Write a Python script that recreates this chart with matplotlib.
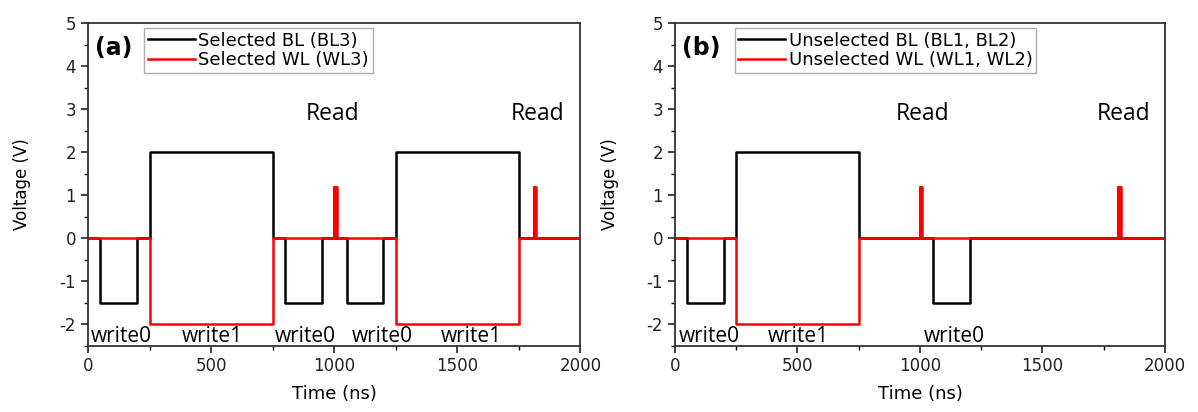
import numpy as np
import matplotlib.pyplot as plt

# tempos (ns) e tensoes (V) de cada sinal, em degraus
bl_a_t = [0, 50, 200, 250, 750, 800, 950, 1050, 1200, 1250, 1750, 2000]
bl_a_v = [0, -1.5, 0, 2, 0, -1.5, 0, -1.5, 0, 2, 0, 0]
wl_a_t = [0, 250, 750, 1000, 1010, 1250, 1750, 1810, 1820, 2000]
wl_a_v = [0, -2, 0, 1.2, 0, -2, 0, 1.2, 0, 0]

bl_b_t = [0, 50, 200, 250, 750, 1055, 1205, 2000]
bl_b_v = [0, -1.5, 0, 2, 0, -1.5, 0, 0]
wl_b_t = [0, 250, 750, 1000, 1010, 1810, 1820, 2000]
wl_b_v = [0, -2, 0, 1.2, 0, 1.2, 0, 0]

# rotulos de operacao
ops_a = ["write0", "write1", "write0", "write0", "write1"]
ops_a_x = [135, 504, 882, 1197, 1557]
ops_b = ["write0", "write1", "write0"]
ops_b_x = [138, 503, 1142]
read_a_x = [992, 1825]
read_b_x = [1010, 1833]

plt.rcParams['font.family'] = ['DejaVu Sans']

fig = plt.figure(figsize=(11.98, 4.12), dpi=100)
ax_a = fig.add_axes([0.0735, 0.161, 0.411, 0.783])
ax_b = fig.add_axes([0.5634, 0.161, 0.409, 0.783])

paineis = [
    (ax_a, bl_a_t, bl_a_v, wl_a_t, wl_a_v, "Selected BL (BL3)", "Selected WL (WL3)",
     ops_a, ops_a_x, read_a_x, "(a)", 0.114),
    (ax_b, bl_b_t, bl_b_v, wl_b_t, wl_b_v, "Unselected BL (BL1, BL2)", "Unselected WL (WL1, WL2)",
     ops_b, ops_b_x, read_b_x, "(b)", 0.122),
]

for ax, blt, blv, wlt, wlv, lab_bl, lab_wl, ops, ops_x, read_x, tag, leg_x in paineis:
    ax.plot(blt, blv, drawstyle='steps-post', color='black', lw=1.8, label=lab_bl)
    ax.plot(wlt, wlv, drawstyle='steps-post', color='#ff0000', lw=1.8, label=lab_wl)
    # pulsos de leitura mais grossos
    for i in range(len(wlt) - 1):
        if wlv[i] > 0:
            ax.fill_between([wlt[i], wlt[i + 1]], 0, wlv[i], color='#ff0000', lw=1.5, edgecolor='#ff0000')

    ax.set_xlim(0, 2000)
    ax.set_ylim(-2.5, 5)
    ax.set_xticks([0, 500, 1000, 1500, 2000])
    ax.set_xticks([250, 750, 1250, 1750], minor=True)
    ax.set_yticks([-2, -1, 0, 1, 2, 3, 4, 5])
    ax.set_yticks(np.arange(-2.5, 5, 0.5), minor=True)
    ax.set_yticklabels(["-2", "-1", "0", "1", "2", "3", "4", "5"])
    ax.tick_params(which='major', direction='out', length=5, width=1.2, labelsize=12,
                   top=False, right=False, colors='#222222')
    ax.tick_params(which='minor', direction='out', length=3, width=1, top=False, right=False)
    for s in ax.spines.values():
        s.set_linewidth(1.3)
        s.set_color('#333333')
    ax.set_xlabel("Time (ns)", fontsize=13)
    ax.set_ylabel("Voltage (V)", fontsize=12)
    ax.xaxis.set_label_coords(0.5, -0.122)
    ax.yaxis.set_label_coords(-0.115, 0.5)

    for txt, x in zip(ops, ops_x):
        ax.text(x, -2.28, txt, ha='center', va='center', fontsize=15, family='Open Sans')
    for x in read_x:
        ax.text(x, 2.88, "Read", ha='center', va='center', fontsize=16.5, family='Open Sans')
    ax.text(0.053, 0.922, tag, transform=ax.transAxes, fontsize=17, fontweight='bold',
            ha='center', va='center')

    leg = ax.legend(loc='upper left', bbox_to_anchor=(leg_x, 0.985), fontsize=13, frameon=True,
                    fancybox=False, handlelength=2.6, borderpad=0.2, labelspacing=0.1,
                    handletextpad=0.2, borderaxespad=0)
    leg.get_frame().set_edgecolor('#999999')
    leg.get_frame().set_linewidth(1)

fig.savefig("out.png", dpi=100)
